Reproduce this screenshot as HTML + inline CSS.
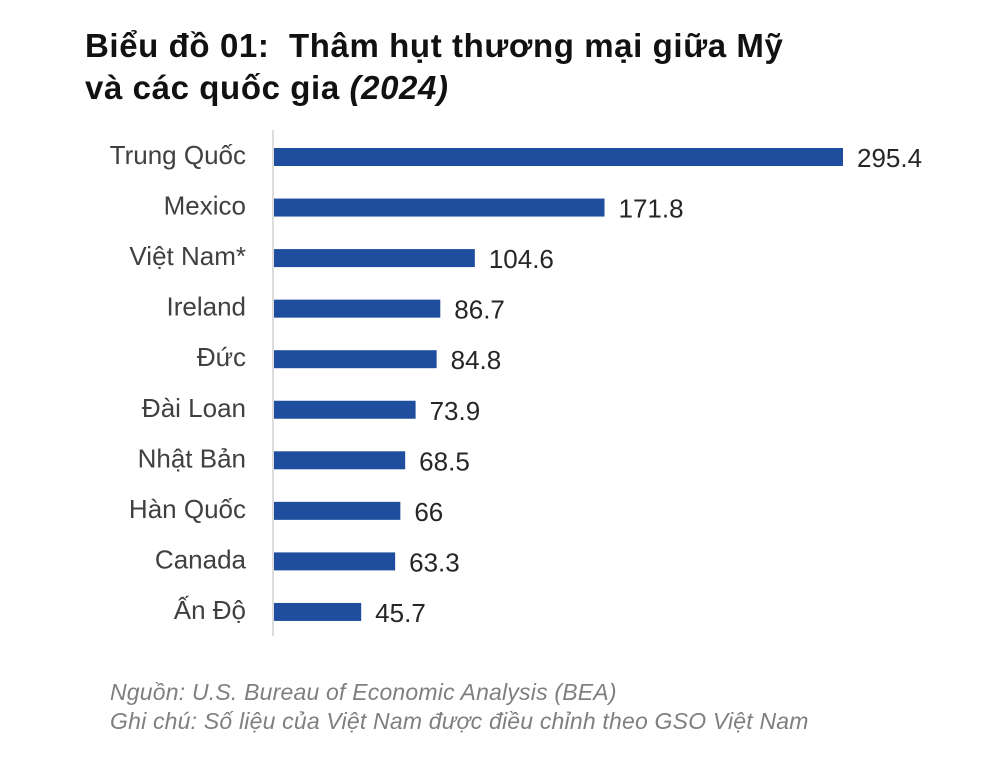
<!DOCTYPE html>
<html><head><meta charset="utf-8"><style>
html,body{margin:0;padding:0;background:#fff;}
body{width:996px;height:760px;position:relative;overflow:hidden;font-family:"Liberation Sans",Arial,sans-serif;}
.title{position:absolute;left:85px;top:25px;font-size:33px;letter-spacing:0.6px;font-weight:bold;color:#111;line-height:42px;white-space:nowrap;}
.note{position:absolute;left:110px;font-size:23px;letter-spacing:0.2px;font-style:italic;color:#7f7f7f;white-space:nowrap;}
</style></head><body>
<div class="title">Biểu đồ 01:&nbsp; Thâm hụt thương mại giữa Mỹ<br>và các quốc gia <i>(2024)</i></div>
<svg id="chart" width="996" height="760" style="position:absolute;left:0;top:0"></svg>
<div class="note" style="top:679px">Nguồn: U.S. Bureau of Economic Analysis (BEA)</div>
<div class="note" style="top:708px">Ghi chú: Số liệu của Việt Nam được điều chỉnh theo GSO Việt Nam</div>
<script>
const categories=["Trung Quốc","Mexico","Việt Nam*","Ireland","Đức","Đài Loan","Nhật Bản","Hàn Quốc","Canada","Ấn Độ"];
const values=[295.4,171.8,104.6,86.7,84.8,73.9,68.5,66,63.3,45.7];
const valueLabels=["295.4","171.8","104.6","86.7","84.8","73.9","68.5","66","63.3","45.7"];
const svg=document.getElementById('chart');
const NS='http://www.w3.org/2000/svg';
const x0=273, scale=570/295.4, y0=157, step=50.55, bh=18;
const xs=v=>x0+v*scale;
const ys=i=>y0+i*step;
function mk(t,a){const e=document.createElementNS(NS,t);for(const k in a)e.setAttribute(k,a[k]);svg.appendChild(e);return e;}
const ax=mk('line',{x1:x0,x2:x0,y1:130,y2:636,stroke:'#d0d0d0','stroke-width':1.5});


categories.forEach((c,i)=>{
  const cy=ys(i);
  const r=mk('rect',{x:x0+1,y:cy-bh/2,width:xs(values[i])-x0-1,height:bh,fill:'#1f4e9e'});
  
  
  const l=mk('text',{x:246,y:cy+7,'text-anchor':'end','font-size':26,fill:'#404040','font-family':'Liberation Sans, sans-serif'});
  l.textContent=c;
  
  
  const v=mk('text',{x:xs(values[i])+14,y:cy+10,'font-size':26,fill:'#262626','font-family':'Liberation Sans, sans-serif'});
  v.textContent=valueLabels[i];
  
  
});
</script>
</body></html>
